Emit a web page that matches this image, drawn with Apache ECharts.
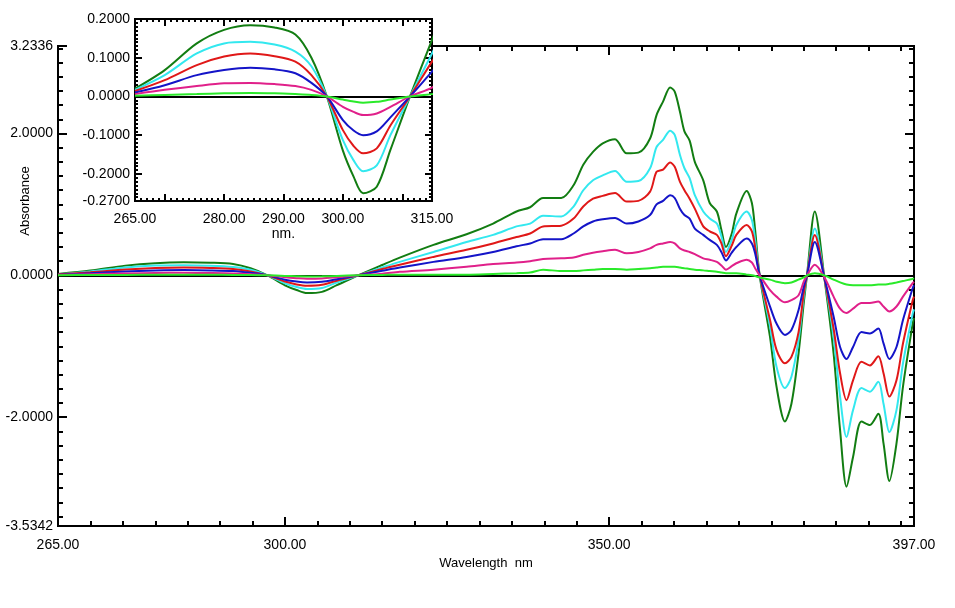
<!DOCTYPE html>
<html>
<head>
<meta charset="utf-8">
<script src="https://cdn.jsdelivr.net/npm/echarts@6/dist/echarts.min.js"></script>
<style>
html,body{margin:0;padding:0;background:#fff}
#main{width:955px;height:608px}
</style>
</head>
<body>
<div id="main"></div>
<script>
// 波长 (nm)
var wavelength = [265, 270, 275.4, 280, 284.4, 288.5, 292, 294.7, 297.3, 300, 301.8, 303.4, 305.7, 308, 311.3, 315,
  317.7, 322.9, 328, 332.1, 335.7, 337.8, 339.8, 342.6, 344.5, 346, 347.5, 349, 350.9, 352.7, 354.5, 356.3,
  357.3, 358.3, 359.4, 360.1, 360.9, 361.6, 362.4, 363.2, 364.5, 365.5, 366.6, 367.3, 368, 368.9, 369.6,
  371.2, 372, 372.5, 373.2, 374.8, 375.8, 377.1, 378.1, 379.2, 380, 380.5, 381.7, 383.2, 384.6, 385.6,
  386.6, 387.6, 388.9, 390.2, 391.5, 392.3, 393.2, 394.3, 395.3, 396.8, 397];

var darkGreen = [0.02, 0.068, 0.137, 0.172, 0.184, 0.178, 0.160, 0.10, 0.0, -0.14, -0.207, -0.250, -0.233, -0.138, 0.0, 0.146,
  0.25, 0.43, 0.58, 0.73, 0.90, 0.96, 1.09, 1.09, 1.27, 1.56, 1.74, 1.86, 1.92, 1.72, 1.73, 1.93,
  2.26, 2.45, 2.65, 2.59, 2.31, 2.03, 1.90, 1.60, 1.34, 1.02, 0.90, 0.64, 0.40, 0.59, 0.87,
  1.19, 1.02, 0.64, 0.0, -0.87, -1.57, -2.06, -1.81, -1.10, -0.39, 0.0, 0.90, -0.05, -1.10, -2.18,
  -2.98, -2.56, -2.06, -2.11, -1.95, -2.37, -2.90, -2.37, -1.57, -0.68, -0.60];

var cyan = [0.017, 0.055, 0.111, 0.137, 0.141, 0.134, 0.116, 0.078, 0.0, -0.113, -0.165, -0.193, -0.178, -0.100, 0.0, 0.111,
  0.19, 0.33, 0.47, 0.57, 0.69, 0.73, 0.84, 0.83, 0.97, 1.20, 1.34, 1.41, 1.47, 1.32, 1.33, 1.51,
  1.81, 1.91, 2.04, 1.98, 1.70, 1.51, 1.37, 1.13, 0.90, 0.80, 0.73, 0.55, 0.33, 0.50, 0.71,
  0.90, 0.78, 0.50, 0.0, -0.72, -1.29, -1.59, -1.43, -0.91, -0.30, 0.0, 0.66, -0.05, -0.87, -1.71,
  -2.28, -1.90, -1.59, -1.64, -1.50, -1.81, -2.21, -1.90, -1.24, -0.54, -0.48];

var red = [0.014, 0.042, 0.081, 0.103, 0.111, 0.104, 0.090, 0.055, 0.0, -0.087, -0.128, -0.147, -0.134, -0.075, 0.0, 0.090,
  0.15, 0.26, 0.36, 0.45, 0.54, 0.59, 0.69, 0.70, 0.80, 0.97, 1.08, 1.12, 1.16, 1.04, 1.05, 1.18,
  1.46, 1.49, 1.59, 1.53, 1.32, 1.20, 1.08, 0.94, 0.69, 0.62, 0.57, 0.45, 0.27, 0.42, 0.57,
  0.71, 0.62, 0.40, 0.0, -0.63, -1.05, -1.24, -1.15, -0.80, -0.25, 0.0, 0.57, -0.05, -0.75, -1.38,
  -1.76, -1.48, -1.22, -1.27, -1.14, -1.38, -1.71, -1.48, -0.96, -0.35, -0.30];

var blue = [0.010, 0.029, 0.055, 0.068, 0.074, 0.070, 0.060, 0.035, 0.0, -0.061, -0.088, -0.100, -0.090, -0.054, 0.0, 0.064,
  0.11, 0.19, 0.26, 0.33, 0.41, 0.45, 0.51, 0.51, 0.59, 0.69, 0.76, 0.79, 0.81, 0.73, 0.76, 0.85,
  1.00, 1.05, 1.13, 1.09, 0.94, 0.85, 0.80, 0.66, 0.57, 0.50, 0.43, 0.33, 0.21, 0.32, 0.40,
  0.52, 0.45, 0.31, 0.0, -0.44, -0.68, -0.84, -0.77, -0.49, -0.16, 0.0, 0.47, -0.04, -0.58, -1.01,
  -1.18, -1.01, -0.80, -0.82, -0.75, -0.96, -1.18, -1.01, -0.63, -0.18, -0.14];

var magenta = [0.006, 0.017, 0.027, 0.034, 0.035, 0.032, 0.027, 0.017, 0.0, -0.027, -0.040, -0.048, -0.044, -0.027, 0.0, 0.023,
  0.05, 0.08, 0.12, 0.16, 0.18, 0.20, 0.23, 0.24, 0.25, 0.29, 0.32, 0.34, 0.36, 0.31, 0.33, 0.38,
  0.43, 0.45, 0.47, 0.45, 0.38, 0.35, 0.33, 0.30, 0.24, 0.22, 0.19, 0.14, 0.08, 0.13, 0.17,
  0.22, 0.18, 0.10, 0.0, -0.21, -0.30, -0.38, -0.35, -0.28, -0.09, 0.0, 0.15, -0.03, -0.30, -0.47,
  -0.53, -0.47, -0.39, -0.39, -0.37, -0.44, -0.51, -0.44, -0.30, -0.11, -0.09];

var lightGreen = [0.002, 0.004, 0.006, 0.008, 0.009, 0.008, 0.006, 0.004, 0.0, -0.008, -0.013, -0.016, -0.014, -0.008, 0.0, 0.006,
  0.01, 0.01, 0.01, 0.02, 0.03, 0.04, 0.08, 0.06, 0.06, 0.07, 0.08, 0.09, 0.09, 0.08, 0.09, 0.10,
  0.11, 0.12, 0.12, 0.12, 0.11, 0.10, 0.09, 0.08, 0.07, 0.06, 0.05, 0.04, 0.03, 0.03, 0.03,
  0.01, 0.00, -0.01, -0.03, -0.06, -0.09, -0.11, -0.10, -0.06, -0.03, 0.0, 0.03, 0.0, -0.06, -0.10,
  -0.13, -0.14, -0.14, -0.14, -0.13, -0.13, -0.12, -0.10, -0.08, -0.05, -0.04];

var seriesValues = [darkGreen, cyan, red, blue, magenta, lightGreen];
var seriesColors = ['#127d12', '#33e8ef', '#e01818', '#1414c8', '#e0208a', '#2aea2a'];

// 刻度
var mainXLabels = [265, 300, 350, 397];
var mainXMajor = [300, 350];
var mainYLabels = [3.2336, 2, 0, -2, -3.5342];
var mainYMajor = [2, 0, -2];
var insetXLabels = [265, 280, 290, 300, 315];
var insetXMajor = [270, 280, 290, 300, 310];
var insetYLabels = [0.2, 0.1, 0, -0.1, -0.2, -0.27];
var insetYMajor = [0.1, 0, -0.1, -0.2];

var mainXMinor = [], mainYMinor = [], insetXMinor = [], insetYMinor = [];
for (var i = 270; i <= 395; i += 5) if (mainXMajor.indexOf(i) < 0) mainXMinor.push(i);
for (var i = -17; i <= 16; i++) if (i % 10 != 0) mainYMinor.push(+(i * 0.2).toFixed(1));
for (var i = 266; i <= 314; i++) if (insetXMajor.indexOf(i) < 0) insetXMinor.push(i);
for (var i = -26; i <= 19; i++) if (i % 10 != 0) insetYMinor.push(+(i * 0.01).toFixed(2));

var FONT = 'Liberation Sans, Arial, sans-serif';

function axis(grid, pos, min, max, ticks, len, z, label) {
  return {
    type: 'value', gridIndex: grid, position: pos, min: min, max: max, z: z,
    axisLine: { show: false, onZero: false },
    splitLine: { show: false },
    axisTick: { show: true, inside: true, length: len, customValues: ticks, lineStyle: { color: '#000', width: 2 } },
    axisLabel: label || { show: false }
  };
}

function labels(vals, digits, margin) {
  return {
    show: true, customValues: vals, margin: margin, color: '#000', fontSize: 14, fontFamily: FONT,
    formatter: function (v) { return (+v).toFixed(digits); }
  };
}

var xAxes = [
  axis(0, 'bottom', 265, 397, mainXMajor, 9, 0, labels(mainXLabels, 2, 12)),
  axis(0, 'bottom', 265, 397, mainXMinor, 5, 0),
  axis(0, 'top', 265, 397, mainXMajor, 9, 0),
  axis(0, 'top', 265, 397, mainXMinor, 5, 0),
  axis(1, 'bottom', 265, 315, insetXMajor, 7, 6, labels(insetXLabels, 2, 11)),
  axis(1, 'bottom', 265, 315, insetXMinor, 3, 6),
  axis(1, 'top', 265, 315, insetXMajor, 7, 6),
  axis(1, 'top', 265, 315, insetXMinor, 3, 6)
];
xAxes[0].name = 'Wavelength  nm';
xAxes[0].nameLocation = 'middle';
xAxes[0].nameGap = 28;
xAxes[0].nameTextStyle = { color: '#000', fontSize: 13, fontFamily: FONT };
xAxes[4].name = 'nm.';
xAxes[4].nameLocation = 'middle';
xAxes[4].nameGap = 25;
xAxes[4].nameTextStyle = { color: '#000', fontSize: 14, fontFamily: FONT };

var yAxes = [
  axis(0, 'left', -3.5342, 3.2336, mainYMajor, 9, 0, labels(mainYLabels, 4, 5)),
  axis(0, 'left', -3.5342, 3.2336, mainYMinor, 5, 0),
  axis(0, 'right', -3.5342, 3.2336, mainYMajor, 9, 0),
  axis(0, 'right', -3.5342, 3.2336, mainYMinor, 5, 0),
  axis(1, 'left', -0.27, 0.2, insetYMajor, 7, 6, labels(insetYLabels, 4, 5)),
  axis(1, 'left', -0.27, 0.2, insetYMinor, 3, 6),
  axis(1, 'right', -0.27, 0.2, insetYMajor, 7, 6),
  axis(1, 'right', -0.27, 0.2, insetYMinor, 3, 6)
];

var series = [];
seriesValues.forEach(function (vals, k) {
  var pts = wavelength.map(function (w, i) { return [w, vals[i]]; });
  series.push({
    type: 'line', xAxisIndex: 0, yAxisIndex: 0, data: pts, showSymbol: false, smooth: 0.3, z: 2,
    lineStyle: { color: seriesColors[k], width: 2 }, itemStyle: { color: seriesColors[k] }
  });
  series.push({
    type: 'line', xAxisIndex: 4, yAxisIndex: 4, data: pts, showSymbol: false, smooth: 0.3, z: 7,
    lineStyle: { color: seriesColors[k], width: 2 }, itemStyle: { color: seriesColors[k] }
  });
});
// 零线
series.unshift({
  type: 'line', xAxisIndex: 0, yAxisIndex: 0, data: [], z: 1,
  markLine: { silent: true, symbol: 'none', z: 1, label: { show: false },
    lineStyle: { color: '#000', width: 2, type: 'solid' }, data: [{ yAxis: 0 }] }
});
series.unshift({
  type: 'line', xAxisIndex: 4, yAxisIndex: 4, data: [], z: 6,
  markLine: { silent: true, symbol: 'none', z: 6, label: { show: false },
    lineStyle: { color: '#000', width: 2, type: 'solid' }, data: [{ yAxis: 0 }] }
});

var myChart = echarts.init(document.getElementById('main'));
var option = {
  animation: false,
  backgroundColor: '#fff',
  grid: [
    { left: 58, top: 46, right: 41, bottom: 82, show: true, borderColor: '#000', borderWidth: 2, z: 0 },
    { left: 135, top: 19, width: 297, height: 182, show: true, borderColor: '#000', borderWidth: 2, backgroundColor: '#fff', z: 6 }
  ],
  xAxis: xAxes,
  yAxis: yAxes,
  graphic: [
    { type: 'rect', shape: { x: 67, y: 0, width: 366, height: 240 }, style: { fill: '#fff' }, z: 5 },
    { type: 'text', x: 25, y: 201, rotation: Math.PI / 2, z: 5,
      style: { text: 'Absorbance', fill: '#000', font: '13px ' + FONT, textAlign: 'center', textVerticalAlign: 'middle' } }
  ],
  series: series
};
myChart.setOption(option);
</script>
</body>
</html>
